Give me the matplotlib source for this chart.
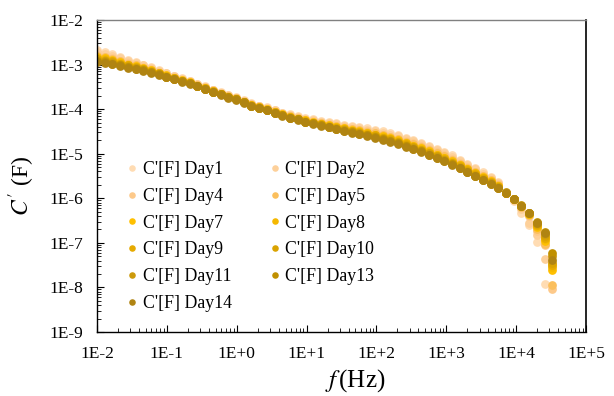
import numpy as np
import matplotlib
matplotlib.use("Agg")
import matplotlib.pyplot as plt
from matplotlib.ticker import LogLocator, FuncFormatter, NullFormatter

plt.rcParams['font.family'] = ['Liberation Serif', 'DejaVu Serif']
plt.rcParams['mathtext.fontset'] = 'stix'

# frequency sweep (Hz)
freq = [0.0100, 0.0129, 0.0166, 0.0215, 0.0277, 0.0357, 0.0460, 0.0593, 0.0766, 0.0987,
        0.127, 0.164, 0.212, 0.273, 0.352, 0.454, 0.586, 0.756, 0.975, 1.26,
        1.62, 2.09, 2.70, 3.48, 4.49, 5.79, 7.47, 9.63, 12.4, 16.0,
        20.7, 26.6, 34.4, 44.3, 57.2, 73.7, 95.1, 123, 158, 204,
        263, 339, 438, 564, 728, 938, 1210, 1560, 2010, 2600,
        3350, 4320, 5570, 7180, 9260, 11900, 15400, 19900, 25600, 33000]

# log10 of C' (F) for each day; nan = not plotted
day1 = [-2.68, -2.72, -2.77, -2.83, -2.89, -2.94, -3.00, -3.06, -3.13, -3.19,
        -3.25, -3.31, -3.36, -3.43, -3.49, -3.56, -3.62, -3.68, -3.73, -3.80,
        -3.87, -3.92, -3.96, -4.02, -4.08, -4.12, -4.16, -4.20, -4.23, -4.26,
        -4.29, -4.32, -4.35, -4.38, -4.40, -4.43, -4.46, -4.50, -4.54, -4.58,
        -4.64, -4.69, -4.75, -4.82, -4.89, -4.96, -5.04, -5.13, -5.22, -5.32,
        -5.42, -5.52, -5.64, -5.88, -6.06, -6.32, -6.60, -6.98, -7.92, np.nan]
day2 = [-2.72, -2.76, -2.80, -2.86, -2.92, -2.96, -3.02, -3.08, -3.14, -3.20,
        -3.26, -3.32, -3.37, -3.44, -3.50, -3.57, -3.63, -3.69, -3.74, -3.81,
        -3.88, -3.93, -3.97, -4.03, -4.09, -4.13, -4.17, -4.21, -4.24, -4.28,
        -4.31, -4.34, -4.37, -4.40, -4.42, -4.46, -4.49, -4.53, -4.57, -4.61,
        -4.67, -4.72, -4.78, -4.85, -4.92, -4.99, -5.07, -5.16, -5.25, -5.35,
        -5.45, -5.54, -5.66, -5.88, -6.03, -6.25, -6.55, -6.82, -7.36, np.nan]
day4 = [-2.78, -2.82, -2.86, -2.91, -2.96, -3.00, -3.06, -3.11, -3.17, -3.23,
        -3.28, -3.34, -3.39, -3.45, -3.51, -3.58, -3.64, -3.70, -3.75, -3.82,
        -3.89, -3.94, -3.99, -4.05, -4.11, -4.15, -4.19, -4.24, -4.27, -4.30,
        -4.34, -4.37, -4.41, -4.44, -4.46, -4.50, -4.53, -4.58, -4.62, -4.66,
        -4.72, -4.77, -4.83, -4.90, -4.97, -5.04, -5.12, -5.21, -5.30, -5.40,
        -5.49, -5.58, -5.69, -5.88, -6.02, -6.20, -6.40, -6.74, -7.05, -8.03]
day5 = [-2.80, -2.84, -2.88, -2.93, -2.98, -3.02, -3.08, -3.13, -3.19, -3.25,
        -3.30, -3.36, -3.41, -3.46, -3.52, -3.59, -3.65, -3.71, -3.76, -3.83,
        -3.90, -3.95, -4.00, -4.06, -4.12, -4.16, -4.20, -4.25, -4.28, -4.31,
        -4.35, -4.38, -4.42, -4.45, -4.47, -4.51, -4.54, -4.59, -4.63, -4.67,
        -4.73, -4.78, -4.84, -4.91, -4.98, -5.05, -5.13, -5.22, -5.31, -5.41,
        -5.50, -5.59, -5.70, -5.88, -6.02, -6.19, -6.38, -6.70, -7.02, -7.95]
day7 = [-2.84, -2.86, -2.90, -2.95, -3.00, -3.04, -3.08, -3.13, -3.19, -3.24,
        -3.30, -3.35, -3.40, -3.47, -3.53, -3.60, -3.66, -3.72, -3.77, -3.84,
        -3.91, -3.96, -4.00, -4.06, -4.12, -4.17, -4.21, -4.25, -4.29, -4.33,
        -4.36, -4.40, -4.43, -4.47, -4.50, -4.53, -4.57, -4.61, -4.65, -4.70,
        -4.76, -4.82, -4.88, -4.95, -5.02, -5.09, -5.17, -5.25, -5.34, -5.43,
        -5.53, -5.62, -5.72, -5.88, -6.02, -6.18, -6.36, -6.64, -6.95, -7.61]
day8 = [-2.85, -2.87, -2.91, -2.96, -3.01, -3.05, -3.09, -3.14, -3.20, -3.25,
        -3.31, -3.36, -3.41, -3.48, -3.54, -3.61, -3.67, -3.73, -3.78, -3.85,
        -3.92, -3.97, -4.01, -4.07, -4.13, -4.18, -4.22, -4.26, -4.30, -4.34,
        -4.37, -4.41, -4.44, -4.48, -4.51, -4.54, -4.58, -4.62, -4.66, -4.71,
        -4.77, -4.83, -4.89, -4.96, -5.03, -5.10, -5.18, -5.26, -5.35, -5.44,
        -5.54, -5.63, -5.73, -5.88, -6.02, -6.17, -6.35, -6.62, -6.92, -7.55]
day9 = [-2.87, -2.90, -2.93, -2.98, -3.02, -3.06, -3.10, -3.15, -3.20, -3.26,
        -3.31, -3.36, -3.41, -3.47, -3.53, -3.60, -3.66, -3.72, -3.77, -3.84,
        -3.91, -3.96, -4.01, -4.07, -4.13, -4.18, -4.22, -4.27, -4.30, -4.34,
        -4.38, -4.42, -4.45, -4.49, -4.52, -4.56, -4.59, -4.64, -4.68, -4.73,
        -4.79, -4.85, -4.91, -4.98, -5.05, -5.12, -5.20, -5.28, -5.37, -5.46,
        -5.55, -5.64, -5.74, -5.88, -6.02, -6.17, -6.34, -6.60, -6.88, -7.50]
day10 = [-2.88, -2.91, -2.94, -2.99, -3.03, -3.07, -3.11, -3.16, -3.21, -3.27,
         -3.32, -3.37, -3.42, -3.48, -3.54, -3.61, -3.67, -3.73, -3.78, -3.85,
         -3.92, -3.97, -4.02, -4.08, -4.14, -4.19, -4.23, -4.28, -4.31, -4.35,
         -4.39, -4.43, -4.46, -4.50, -4.53, -4.57, -4.60, -4.65, -4.69, -4.74,
         -4.80, -4.86, -4.92, -4.99, -5.06, -5.13, -5.21, -5.29, -5.38, -5.47,
         -5.56, -5.65, -5.75, -5.88, -6.02, -6.17, -6.34, -6.58, -6.85, -7.45]
day11 = [-2.91, -2.93, -2.96, -3.00, -3.05, -3.08, -3.12, -3.17, -3.22, -3.27,
         -3.32, -3.37, -3.42, -3.48, -3.54, -3.61, -3.67, -3.73, -3.78, -3.85,
         -3.92, -3.97, -4.02, -4.08, -4.14, -4.19, -4.23, -4.28, -4.32, -4.36,
         -4.40, -4.44, -4.47, -4.51, -4.54, -4.58, -4.62, -4.67, -4.71, -4.76,
         -4.82, -4.88, -4.94, -5.01, -5.08, -5.15, -5.23, -5.31, -5.40, -5.49,
         -5.58, -5.66, -5.76, -5.88, -6.02, -6.17, -6.33, -6.56, -6.80, -7.30]
day13 = [-2.93, -2.95, -2.98, -3.02, -3.06, -3.09, -3.13, -3.17, -3.22, -3.27,
         -3.32, -3.37, -3.42, -3.48, -3.54, -3.61, -3.67, -3.73, -3.78, -3.85,
         -3.92, -3.97, -4.02, -4.08, -4.14, -4.19, -4.23, -4.28, -4.32, -4.36,
         -4.40, -4.44, -4.48, -4.52, -4.55, -4.59, -4.63, -4.68, -4.72, -4.77,
         -4.83, -4.89, -4.95, -5.02, -5.09, -5.16, -5.24, -5.32, -5.41, -5.50,
         -5.59, -5.67, -5.76, -5.87, -6.01, -6.16, -6.32, -6.53, -6.76, -7.22]
day14 = [-2.94, -2.96, -2.99, -3.03, -3.07, -3.10, -3.14, -3.18, -3.23, -3.28,
         -3.33, -3.38, -3.43, -3.49, -3.55, -3.62, -3.68, -3.74, -3.79, -3.86,
         -3.93, -3.98, -4.03, -4.09, -4.15, -4.20, -4.24, -4.29, -4.33, -4.37,
         -4.41, -4.45, -4.49, -4.53, -4.56, -4.60, -4.64, -4.69, -4.73, -4.78,
         -4.84, -4.90, -4.96, -5.03, -5.10, -5.17, -5.25, -5.33, -5.42, -5.51,
         -5.60, -5.68, -5.77, -5.88, -6.02, -6.17, -6.33, -6.55, -6.79, -7.38]

labels = ["C'[F] Day1", "C'[F] Day2", "C'[F] Day4", "C'[F] Day5", "C'[F] Day7",
          "C'[F] Day8", "C'[F] Day9", "C'[F] Day10", "C'[F] Day11", "C'[F] Day13",
          "C'[F] Day14"]
series = [day1, day2, day4, day5, day7, day8, day9, day10, day11, day13, day14]
colors = ["#FFDCB3", "#FDD09A", "#FDC98A", "#FBBF5C", "#FFC000", "#F5B800",
          "#E6AA00", "#DAA300", "#CC9A0C", "#C09000", "#B08412"]

fig = plt.figure(figsize=(6.14, 3.96), dpi=100)
ax = fig.add_axes([97 / 614, 64 / 396, 489 / 614, 312 / 396])

handles = []
for vals, lab, col in zip(series, labels, colors):
    h, = ax.plot(freq, 10 ** np.array(vals), ls='none', marker='o', ms=6.3,
                 mew=0, color=col, label=lab)
    handles.append(h)

ax.set_xscale('log')
ax.set_yscale('log')
ax.set_xlim(1e-2, 1e5)
ax.set_ylim(1e-9, 1e-2)

fmt = FuncFormatter(lambda v, p: "1E{:+d}".format(int(round(np.log10(v)))))
for axis in (ax.xaxis, ax.yaxis):
    axis.set_major_locator(LogLocator(base=10, numticks=20))
    axis.set_minor_locator(LogLocator(base=10, subs=np.arange(2, 10), numticks=20))
    axis.set_major_formatter(fmt)
    axis.set_minor_formatter(NullFormatter())

ax.tick_params(which='both', direction='in', top=False, right=False, labelsize=12.5)
ax.tick_params(which='major', length=5, width=0.8)
ax.tick_params(which='minor', length=3, width=0.6)
ax.tick_params(axis='x', pad=10)
ax.tick_params(axis='y', pad=10)

for side in ('left', 'bottom'):
    ax.spines[side].set_color('black')
    ax.spines[side].set_linewidth(1.0)
ax.spines['top'].set_color('#808080')
ax.spines['top'].set_linewidth(1.0)
ax.spines['right'].set_color('black')
ax.spines['right'].set_linewidth(1.2)

fig.text(355 / 614, 1 - 381 / 396, r"$f\,$(Hz)", fontsize=18, ha='center', va='center')
fig.text(22 / 614, 1 - 186 / 396, r"$C'$ (F)", fontsize=17, ha='center', va='center',
         rotation=90)

# two legend columns filled row by row
order = [0, 2, 4, 6, 8, 10, 1, 3, 5, 7, 9]
ax.legend(handles=[handles[i] for i in order], ncol=2, frameon=False, fontsize=12.8,
          markerscale=0.75, handlelength=0.6, handletextpad=0.3, columnspacing=2.1,
          labelspacing=0.55, loc='upper left', bbox_to_anchor=(127 / 614, 1 - 161 / 396),
          bbox_transform=fig.transFigure, borderaxespad=0, borderpad=0)

fig.savefig("out.png", dpi=100)
